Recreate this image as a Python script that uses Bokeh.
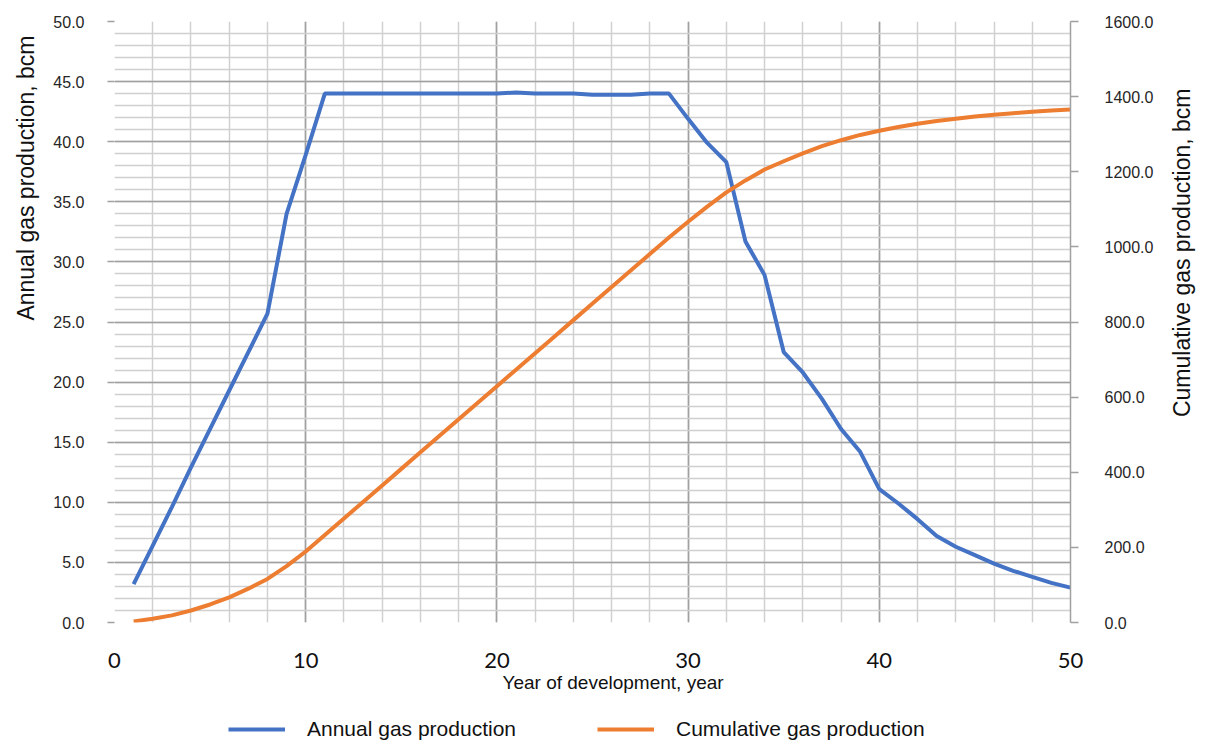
from bokeh.plotting import figure
from bokeh.layouts import row, column
from bokeh.models import (Range1d, LinearAxis, FixedTicker, NumeralTickFormatter,
                          Title, Legend, LegendItem)
from bokeh.embed import file_html
from bokeh.resources import INLINE

# ---- data ----
years = list(range(1, 51))
annual = [3.2, 6.4, 9.6, 12.9, 16.1, 19.3, 22.5, 25.7, 34.0, 38.9,
          44.0, 44.0, 44.0, 44.0, 44.0, 44.0, 44.0, 44.0, 44.0, 44.0,
          44.1, 44.0, 44.0, 44.0, 43.9, 43.9, 43.9, 44.0, 44.0, 41.9,
          39.9, 38.3, 31.7, 28.9, 22.5, 20.8, 18.6, 16.1, 14.2, 11.1,
          9.9, 8.6, 7.2, 6.3, 5.6, 4.9, 4.3, 3.8, 3.3, 2.9]
cumulative = [3, 10, 19, 32, 48, 67, 90, 116, 150, 189,
              233, 277, 321, 365, 409, 453, 497, 541, 585, 629,
              673, 717, 761, 805, 849, 893, 937, 981, 1025, 1067,
              1107, 1145, 1177, 1206, 1228, 1249, 1268, 1284, 1298, 1309,
              1319, 1328, 1335, 1341, 1347, 1352, 1356, 1360, 1363, 1366]
x_ticks = [0, 10, 20, 30, 40, 50]
left_ticks = [0, 5, 10, 15, 20, 25, 30, 35, 40, 45, 50]
right_ticks = [0, 200, 400, 600, 800, 1000, 1200, 1400, 1600]
label_annual = "Annual gas production"
label_cum = "Cumulative gas production"
title_left = "Annual gas production, bcm"
title_right = "Cumulative gas production, bcm"
title_x = "Year of development, year"

BLUE = "#4472C4"
ORANGE = "#ED7D31"
MAJOR = "#a0a0a0"
MINOR = "#d0d0d0"
TXT = "#262626"
FONT = "Liberation Sans"

p = figure(frame_width=956, frame_height=601, x_range=Range1d(0, 50), y_range=Range1d(0, 50),
           output_backend="svg", toolbar_location=None,
           min_border_left=113, min_border_right=91, min_border_top=21, min_border_bottom=0,
           x_axis_location="below")
p.outline_line_color = None
p.extra_y_ranges = {"cum": Range1d(0, 1600)}

# grids
p.xgrid.ticker = FixedTicker(ticks=x_ticks, minor_ticks=list(range(0, 51, 2)))
p.ygrid.ticker = FixedTicker(ticks=left_ticks, minor_ticks=list(range(0, 51, 1)))
for g in (p.xgrid[0], p.ygrid[0]):
    g.grid_line_color = MAJOR
    g.grid_line_width = 1.6
    g.minor_grid_line_color = MINOR
    g.minor_grid_line_width = 1.5
    g.level = "underlay"

# bottom axis
xa = p.xaxis[0]
xa.ticker = FixedTicker(ticks=x_ticks)
xa.axis_line_color = None
xa.major_tick_line_color = None
xa.minor_tick_line_color = None
xa.major_tick_out = 0
xa.major_tick_in = 0
xa.major_label_standoff = 30
xa.major_label_text_font = "Lato"
xa.major_label_text_font_size = "22px"
xa.major_label_text_color = "#111111"

# left axis
ya = p.yaxis[0]
ya.ticker = FixedTicker(ticks=left_ticks)
ya.formatter = NumeralTickFormatter(format="0.0")
ya.axis_line_color = None
ya.major_tick_line_color = MAJOR
ya.major_tick_line_width = 1.5
ya.major_tick_out = 7
ya.major_tick_in = 0
ya.minor_tick_line_color = None
ya.major_label_standoff = 23
ya.major_label_text_font = FONT
ya.major_label_text_font_size = "16px"
ya.major_label_text_color = TXT

# right axis
ra = LinearAxis(y_range_name="cum", ticker=FixedTicker(ticks=right_ticks),
                formatter=NumeralTickFormatter(format="0.0"))
ra.axis_line_color = MAJOR
ra.axis_line_width = 1.5
ra.major_tick_line_color = MAJOR
ra.major_tick_line_width = 1.5
ra.major_tick_out = 8
ra.major_tick_in = 0
ra.minor_tick_line_color = None
ra.major_label_standoff = 26
ra.major_label_text_font = FONT
ra.major_label_text_font_size = "16px"
ra.major_label_text_color = TXT
p.add_layout(ra, "right")

# lines
p.line(years, annual, line_color=BLUE, line_width=4)
p.line(years, cumulative, line_color=ORANGE, line_width=4, y_range_name="cum")

# left axis title
p.add_layout(Title(text=title_left, align="right", offset=14, vertical_align="middle",
                   standoff=22, text_font=FONT, text_font_size="23px",
                   text_font_style="normal", text_color="#111111"), "left")

# x axis title
p.add_layout(Title(text=title_x, align="left", offset=388, vertical_align="middle",
                   standoff=0, text_font=FONT, text_font_size="19px",
                   text_font_style="normal", text_color="#111111"), "below")

# narrow companion figure that carries the right-hand axis title
p2 = figure(frame_width=10, frame_height=601, output_backend="svg", toolbar_location=None,
            x_axis_location=None, y_axis_location=None,
            min_border_left=34, min_border_right=0, min_border_top=21, min_border_bottom=0)
p2.outline_line_color = None
p2.grid.visible = False
p2.add_layout(Title(text=title_right, align="right", offset=67, vertical_align="middle",
                    standoff=0, text_font=FONT, text_font_size="23px",
                    text_font_style="normal", text_color="#111111"), "left")

# strip below the chart that carries the legend; its proxy lines reuse the series
# but lie outside this strip's visible range, so only the legend samples show
p3 = figure(frame_width=956, frame_height=48, output_backend="svg", toolbar_location=None,
            x_range=Range1d(0, 50), y_range=Range1d(0, 1),
            x_axis_location=None, y_axis_location=None,
            min_border_left=113, min_border_right=0, min_border_top=0, min_border_bottom=0)
p3.outline_line_color = None
p3.grid.visible = False
k1 = p3.line(years, annual, line_color=BLUE, line_width=4)
k2 = p3.line(years, cumulative, line_color=ORANGE, line_width=4)
legend = Legend(items=[LegendItem(label=label_annual, renderers=[k1]),
                       LegendItem(label=label_cum, renderers=[k2])],
                orientation="horizontal", location=(115, 0),
                glyph_width=57, glyph_height=20, label_standoff=22, spacing=81,
                label_text_font=FONT, label_text_font_size="21px",
                label_text_color="#111111",
                border_line_color=None, background_fill_alpha=0,
                padding=0, margin=0)
p3.add_layout(legend, "center")

layout = column(row(p, p2, spacing=0), p3, spacing=0)
open("out.html", "w").write(file_html(layout, INLINE))
